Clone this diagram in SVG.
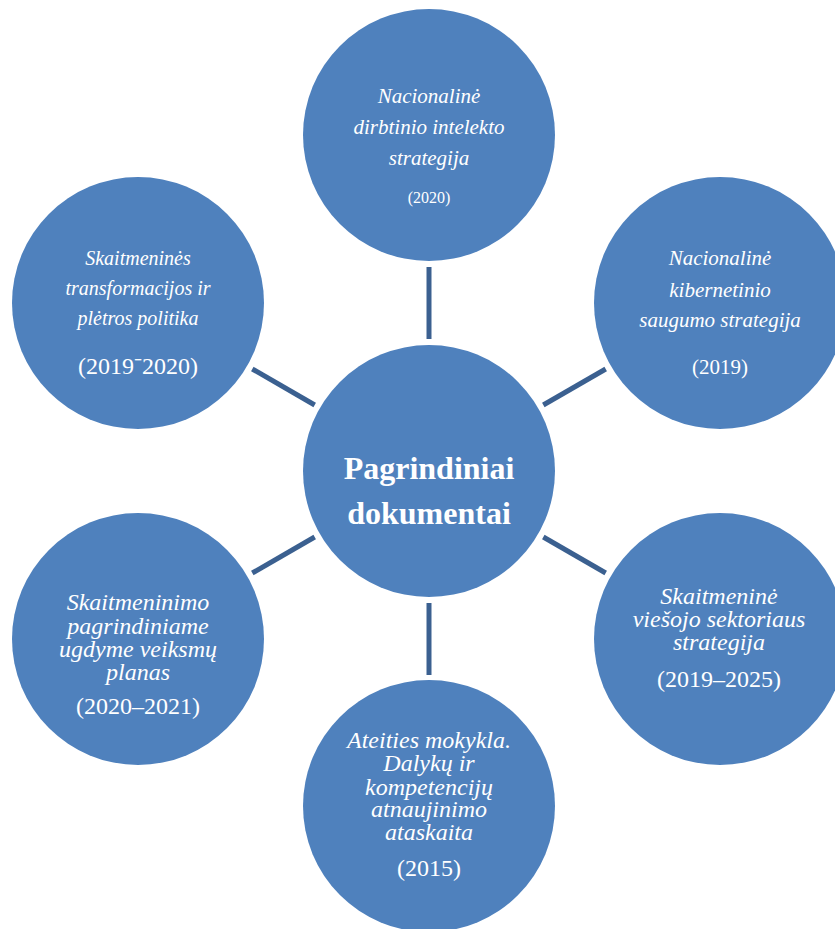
<svg xmlns="http://www.w3.org/2000/svg" width="835" height="929" viewBox="0 0 835 929">
<style>
.n{fill:#4f81bd}
.c line{stroke:#3b6090;stroke-width:5}
text{font-family:"Liberation Serif","Times New Roman",serif;fill:#fff;text-anchor:middle}
.i{font-style:italic}
.b{font-weight:bold;font-size:32px}
</style>
<rect width="835" height="929" fill="#fff"/>
<g class="c" id="connectors">
<line x1="429" y1="339" x2="429" y2="267"/>
<line x1="429" y1="603" x2="429" y2="675"/>
<line x1="314.7" y1="405" x2="252.3" y2="369"/>
<line x1="543.3" y1="405" x2="605.7" y2="369"/>
<line x1="314.7" y1="537" x2="252.3" y2="573"/>
<line x1="543.3" y1="537" x2="605.7" y2="573"/>
</g>
<g id="center">
<circle class="n" cx="429" cy="471" r="126"/>
<text class="b" x="429" y="479">Pagrindiniai</text>
<text class="b" x="429" y="524">dokumentai</text>
</g>
<g id="top">
<circle class="n" cx="429" cy="135" r="126"/>
<text class="i" font-size="21" x="429" y="103">Nacionalinė</text>
<text class="i" font-size="21" x="429" y="134">dirbtinio intelekto</text>
<text class="i" font-size="21" x="429" y="165">strategija</text>
<text font-size="16" x="429" y="203">(2020)</text>
</g>
<g id="top-left">
<circle class="n" cx="138" cy="303" r="126"/>
<text class="i" font-size="20" x="138" y="265">Skaitmeninės</text>
<text class="i" font-size="20" x="138" y="295">transformacijos ir</text>
<text class="i" font-size="20" x="138" y="325">plėtros politika</text>
<text font-size="24" x="138" y="374">(2019⁻2020)</text>
</g>
<g id="top-right">
<circle class="n" cx="720" cy="303" r="126"/>
<text class="i" font-size="21" x="720" y="265">Nacionalinė</text>
<text class="i" font-size="21" x="720" y="297">kibernetinio</text>
<text class="i" font-size="21" x="720" y="327">saugumo strategija</text>
<text font-size="21" x="720" y="374">(2019)</text>
</g>
<g id="bottom-left">
<circle class="n" cx="138" cy="639" r="126"/>
<text class="i" font-size="24" x="138" y="610">Skaitmeninimo</text>
<text class="i" font-size="24" x="138" y="634">pagrindiniame</text>
<text class="i" font-size="24" x="138" y="657">ugdyme veiksmų</text>
<text class="i" font-size="24" x="138" y="680">planas</text>
<text font-size="24" x="138" y="714">(2020–2021)</text>
</g>
<g id="bottom-right">
<circle class="n" cx="720" cy="639" r="126"/>
<text class="i" font-size="24" x="719" y="604">Skaitmeninė</text>
<text class="i" font-size="24" x="719" y="627">viešojo sektoriaus</text>
<text class="i" font-size="24" x="719" y="650">strategija</text>
<text font-size="24" x="719" y="687">(2019–2025)</text>
</g>
<g id="bottom">
<circle class="n" cx="429" cy="806" r="126"/>
<text class="i" font-size="24" x="429" y="748">Ateities mokykla.</text>
<text class="i" font-size="24" x="429" y="771">Dalykų ir</text>
<text class="i" font-size="24" x="429" y="795">kompetencijų</text>
<text class="i" font-size="24" x="429" y="817">atnaujinimo</text>
<text class="i" font-size="24" x="429" y="840">ataskaita</text>
<text font-size="24" x="429" y="876">(2015)</text>
</g>
</svg>
